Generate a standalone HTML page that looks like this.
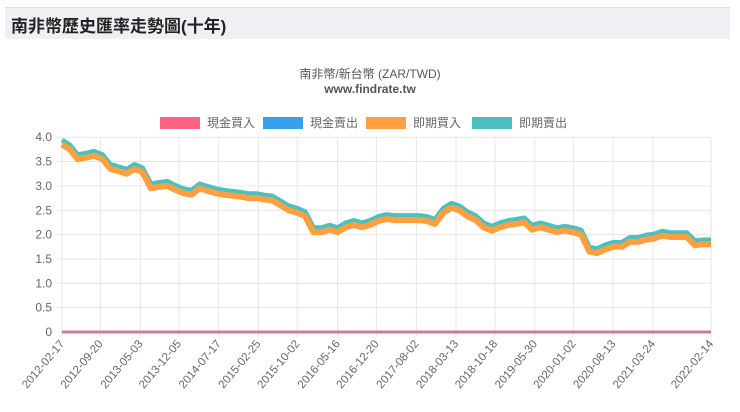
<!DOCTYPE html>
<html><head><meta charset="utf-8">
<style>
body{margin:0;width:740px;height:412px;background:#fff;overflow:hidden;font-family:"Liberation Sans","Noto Sans CJK TC",sans-serif;}
#hdr{position:absolute;left:5px;top:7px;width:725px;height:31px;background:#eef0f3;border-top:1px solid #dde;}
#hdr span{position:absolute;left:6px;top:4px;font-size:17px;font-weight:bold;color:#222;}
</style></head><body>
<div id="hdr"><span>南非幣歷史匯率走勢圖(十年)</span></div>
<svg id="chart" width="740" height="412" style="position:absolute;left:0;top:0"></svg>
<script>
const tickDates=["2012-02-17","2012-09-20","2013-05-03","2013-12-05","2014-07-17","2015-02-25","2015-10-02","2016-05-16","2016-12-20","2017-08-02","2018-03-13","2018-10-18","2019-05-30","2020-01-02","2020-08-13","2021-03-24","2022-02-14"];
const yTicks=[0,0.5,1.0,1.5,2.0,2.5,3.0,3.5,4.0];
const dates=["2012-02-17","2012-04-01","2012-05-15","2012-07-01","2012-08-15","2012-10-01","2012-11-15","2013-01-01","2013-02-15","2013-04-01","2013-05-15","2013-07-01","2013-08-15","2013-10-01","2013-11-15","2014-01-01","2014-02-15","2014-04-01","2014-05-15","2014-07-01","2014-08-15","2014-10-01","2014-11-15","2015-01-01","2015-02-15","2015-04-01","2015-05-15","2015-07-01","2015-08-15","2015-10-01","2015-11-15","2016-01-01","2016-02-15","2016-04-01","2016-05-15","2016-07-01","2016-08-15","2016-10-01","2016-11-15","2017-01-01","2017-02-15","2017-04-01","2017-05-15","2017-07-01","2017-08-15","2017-10-01","2017-11-15","2018-01-01","2018-02-15","2018-04-01","2018-05-15","2018-07-01","2018-08-15","2018-10-01","2018-11-15","2019-01-01","2019-02-15","2019-04-01","2019-05-15","2019-07-01","2019-08-15","2019-10-01","2019-11-15","2020-01-01","2020-02-15","2020-04-01","2020-05-15","2020-07-01","2020-08-15","2020-10-01","2020-11-15","2021-01-01","2021-02-15","2021-04-01","2021-05-15","2021-07-01","2021-08-15","2021-10-01","2021-11-15","2022-01-01","2022-02-14"];
const spotBuy=[3.85,3.75,3.55,3.58,3.62,3.55,3.35,3.3,3.25,3.35,3.28,2.95,2.98,3.0,2.92,2.85,2.82,2.95,2.9,2.85,2.82,2.8,2.78,2.75,2.75,2.72,2.7,2.6,2.5,2.45,2.38,2.05,2.05,2.1,2.05,2.15,2.2,2.15,2.2,2.28,2.32,2.3,2.3,2.3,2.3,2.28,2.22,2.45,2.55,2.5,2.38,2.3,2.15,2.08,2.15,2.2,2.22,2.25,2.1,2.15,2.1,2.05,2.08,2.05,2.0,1.65,1.62,1.7,1.75,1.75,1.85,1.85,1.9,1.92,1.98,1.95,1.95,1.95,1.78,1.8,1.8];
const spotSell=spotBuy.map(v=>v+0.09);
const cashBuy=dates.map(()=>0);
const cashSell=dates.map(()=>0);
const svg=document.getElementById('chart');
const NS='http://www.w3.org/2000/svg';
const X0=62,X1=711,Y0=332,K=48.7;
const t0=Date.parse(tickDates[0]),t1=Date.parse(tickDates[tickDates.length-1]);
const xs=d=>X0+(Date.parse(d)-t0)/(t1-t0)*(X1-X0);
const ys=v=>Y0-v*K;
function mk(tag,at,txt){const e=document.createElementNS(NS,tag);for(const k in at)e.setAttribute(k,at[k]);if(txt!=null)e.textContent=txt;svg.appendChild(e);return e;}
let e;
e=mk('text',{x:370,y:78,'text-anchor':'middle','font-size':12,fill:'#555'},'南非幣/新台幣 (ZAR/TWD)');


e=mk('text',{x:370,y:93,'text-anchor':'middle','font-size':12,'font-weight':'bold',fill:'#555'},'www.findrate.tw');


const legNames=['現金買入','現金賣出','即期買入','即期賣出'];
const legColors=['#ff6384','#36a2eb','#ff9f40','#4bc0c0'];
const legX=[160,263,366,472];
legNames.forEach((n,i)=>{
 e=mk('rect',{x:legX[i],y:117,width:40,height:12,fill:legColors[i]});
 
 
 e=mk('text',{x:legX[i]+47,y:127,'font-size':12,fill:'#666'},n);
 
 
});
yTicks.forEach(v=>{
 e=mk('line',{x1:X0-5,x2:X1,y1:ys(v),y2:ys(v),stroke:'#e6e6e6','stroke-width':1});
 
 
 e=mk('text',{x:52,y:ys(v)+4,'text-anchor':'end','font-size':12,fill:'#666'},v===0?'0':v.toFixed(1));
 
 
});
tickDates.forEach(d=>{
 const x=xs(d);
 e=mk('line',{x1:x,x2:x,y1:ys(4),y2:Y0+5,stroke:'#e6e6e6','stroke-width':1});
 
 
 e=mk('text',{x:x+3,y:Y0+12,'text-anchor':'end','font-size':11.5,fill:'#666',transform:`rotate(-50 ${x+3} ${Y0+12})`},d);
 
 
});
function path(arr,color,w,name){
 const d=arr.map((v,i)=>(i?'L':'M')+xs(dates[i]).toFixed(1)+','+ys(v).toFixed(1)).join('');
 e=mk('path',{d:d,fill:'none',stroke:color,'stroke-width':w,'stroke-linejoin':'round'});
 
 
}
path(spotSell,'#4bc0c0',5,'spot-sell-line');
path(spotBuy,'#ff9f40',6,'spot-buy-line');
path(cashSell,'#36a2eb',3,'cash-sell-line');
path(cashBuy,'#d27a90',3,'cash-buy-line');
</script>
</body></html>
